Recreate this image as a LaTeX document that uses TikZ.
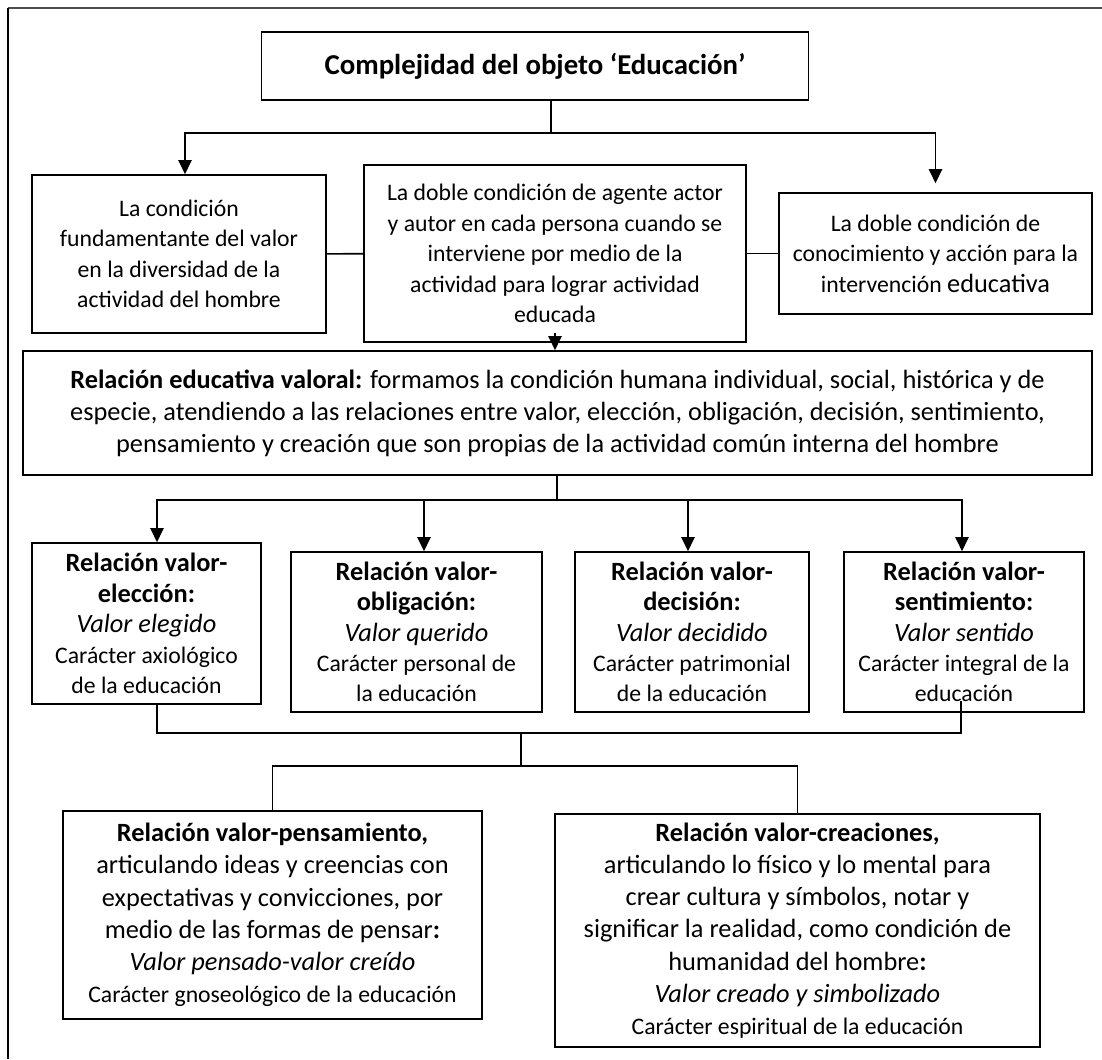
\documentclass[tikz,border=0pt]{standalone}
\usepackage{fontspec}
\setmainfont{Carlito}
\usepackage{tikz}
\usetikzlibrary{calc}
\usetikzlibrary{arrows.meta}
\usetikzlibrary{positioning}
\tikzset{>=latex}
\newcommand{\hdtext}[1]{{\fontsize{15}{17.5}\selectfont\bfseries #1}}
\newcommand{\valtext}[1]{{\fontsize{15}{17.5}\selectfont\itshape #1}}
\newcommand{\cartext}[1]{{\fontsize{13.5}{17.5}\selectfont #1}}
\tikzstyle{box} = [draw, line width=0.9pt, align=center, inner sep=2pt, font=\fontsize{13.5}{17.3}\selectfont]
\tikzstyle{bigbox} = [box, font=\fontsize{15}{18.3}\selectfont]
\tikzstyle{link} = [-, line width=0.9pt]
\tikzstyle{arr} = [-{Triangle[width=7.5pt,length=8pt]}, line width=0.9pt]
\tikzset{boxsize/.style 2 args={minimum width=#1*0.02cm, minimum height=#2*0.02cm}}

\begin{document}
\begin{tikzpicture}[x=0.02cm, y=-0.02cm]
\useasboundingbox (0,0) rectangle (1102,1059);
%frame
\draw [line width=1.3pt, draw=black!70] (8,8) -- (1102,8);
\draw [line width=0.6pt] (8,8) -- (8,1059);

\node [box, boxsize={547}{68}, font=\fontsize{16.4}{19}\selectfont\bfseries] (title) at (535,66) {Complejidad del objeto ‘Educación’};
\node [box, boxsize={294}{158}] (cond) at (179,254) {La condición\\ fundamentante del valor\\ en la diversidad de la\\ actividad del hombre};
\node [box, boxsize={382}{177}] (doble) at (555,253.5) {La doble condición de agente actor\\ y autor en cada persona cuando se\\ interviene por medio de la\\ actividad para lograr actividad\\ educada};
\node [box, boxsize={313}{121}] (conoc) at (935.5,253.5) {La doble condición de\\ conocimiento y acción para la\\ intervención {\fontsize{15}{17}\selectfont educativa}};

\node [bigbox, boxsize={1069}{124}] (rel) at (557.5,413) {\textbf{Relación educativa valoral:} formamos la condición humana individual, social, histórica y de\\ especie, atendiendo a las relaciones entre valor, elección, obligación, decisión, sentimiento,\\ pensamiento y creación que son propias de la actividad común interna del hombre};

\node [box, boxsize={229}{161}] (elec) at (146.5,623.5) {\hdtext{Relación valor-}\\ \hdtext{elección:}\\ \valtext{Valor elegido}\\ \cartext{Carácter axiológico}\\ \cartext{de la educación}};
\node [box, boxsize={251}{160}] (oblig) at (416.5,632) {\hdtext{Relación valor-}\\ \hdtext{obligación:}\\ \valtext{Valor querido}\\ \cartext{Carácter personal de}\\ \cartext{la educación}};
\node [box, boxsize={234}{160}] (decis) at (692,632) {\hdtext{Relación valor-}\\ \hdtext{decisión:}\\ \valtext{Valor decidido}\\ \cartext{Carácter patrimonial}\\ \cartext{de la educación}};
\node [box, boxsize={240}{160}] (senti) at (964,632) {\hdtext{Relación valor-}\\ \hdtext{sentimiento:}\\ \valtext{Valor sentido}\\ \cartext{Carácter integral de la}\\ \cartext{educación}};

\node [bigbox, boxsize={419}{208}] (pens) at (272.5,915) {\textbf{Relación valor-pensamiento,}\\ articulando ideas y creencias con\\ expectativas y convicciones, por\\ medio de las formas de pensar\textbf{:}\\ \textit{Valor pensado-valor creído}\\ {\fontsize{13.5}{17}\selectfont Carácter gnoseológico de la educación}};
\node [bigbox, boxsize={485}{233}] (crea) at (797.5,930.5) {\textbf{Relación valor-creaciones,}\\ articulando lo físico y lo mental para\\ crear cultura y símbolos, notar y\\ significar la realidad, como condición de\\ humanidad del hombre\textbf{:}\\ \textit{Valor creado y simbolizado}\\ {\fontsize{13.5}{17}\selectfont Carácter espiritual de la educación}};

\coordinate (t1) at (551,133);
\draw [link] (title.south -| t1) -- (t1);
\draw [arr] (t1) -| ($(cond.north)+(6,0)$);
\draw [arr] (t1) -| ([yshift=0.18cm]conoc.north);
\draw [link] (cond) -- (doble);
\draw [link] (doble) -- (conoc);
\draw [arr] ([yshift=0.2cm]doble.south) -- (doble.south |- rel.north);

\coordinate (r1) at (557,500);
\draw [link] (rel.south -| r1) -- (r1);
\draw [arr] (r1) -| ($(elec.north)+(10.5,0)$);
\draw [arr] (r1) -| ($(oblig.north)+(7.5,0)$);
\draw [arr] (r1) -| ($(decis.north)+(-4,0)$);
\draw [arr] (r1) -| ($(senti.north)+(-2,0)$);

\coordinate (b1) at (521,733);
\coordinate (b2) at (521,766);
\draw [link] ($(elec.south)+(10.5,0)$) |- (b1) -| ($(senti.south)+(-3,-12)$);
\draw [link] (b1) -- (b2);
\draw [link] (pens.north) |- (b2) -| (crea.north);
\end{tikzpicture}
\end{document}
